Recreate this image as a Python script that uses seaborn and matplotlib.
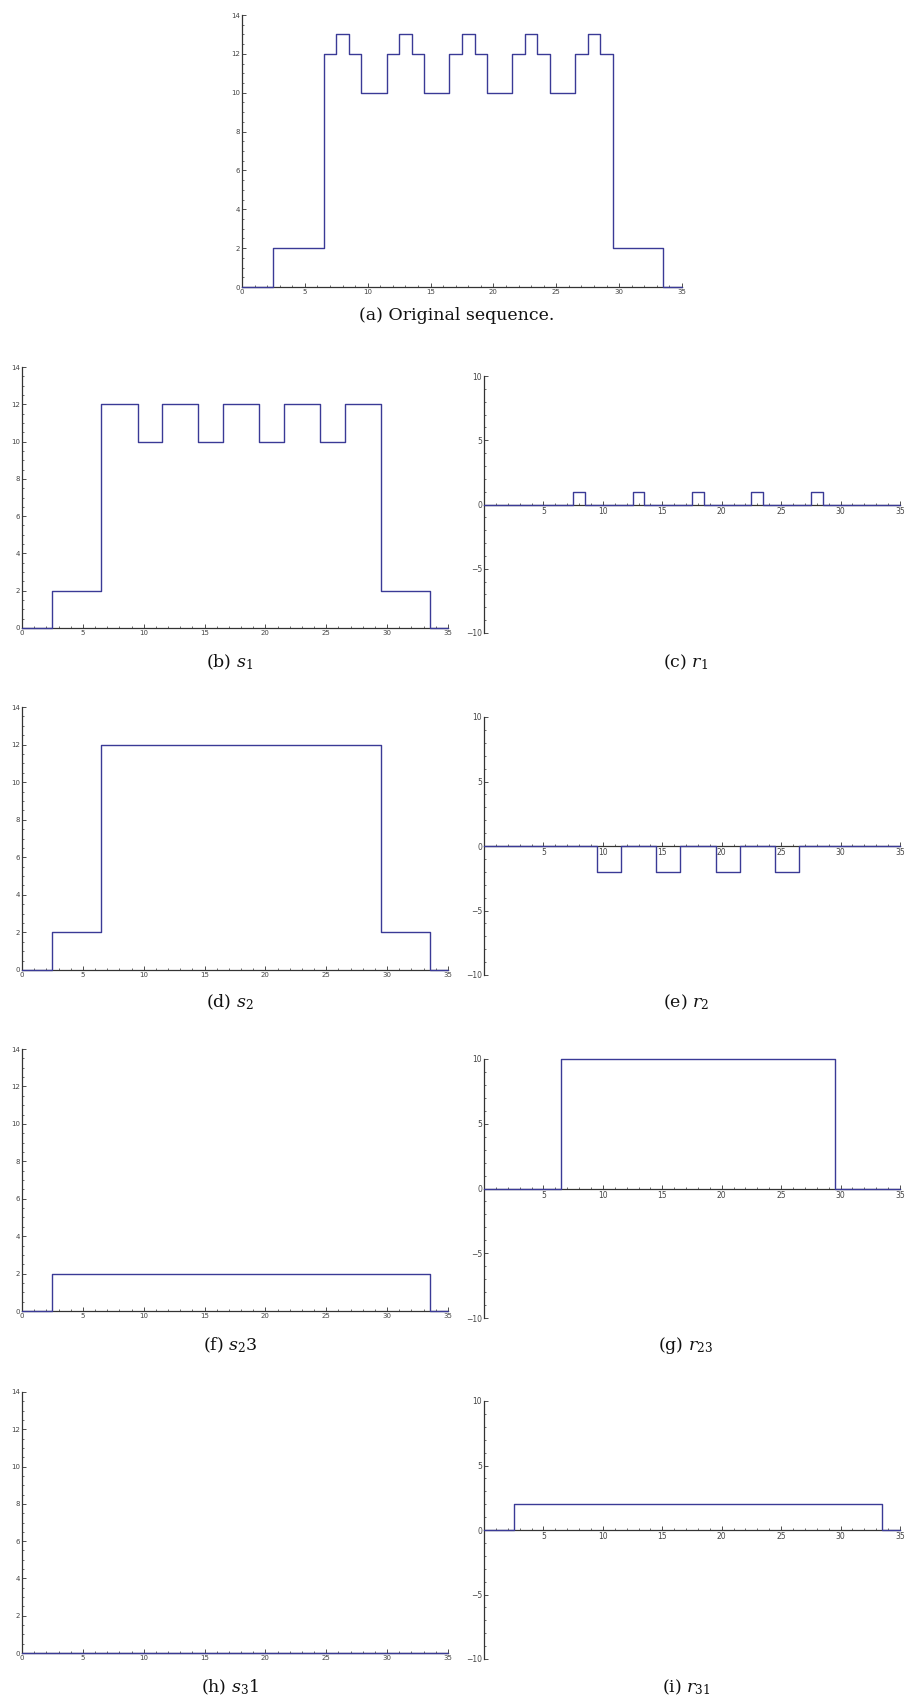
"""
Декомпозиция последовательности: исходный сигнал, сглаженные части s и остатки r.
"""

import numpy as np
import matplotlib
matplotlib.use("Agg")
import matplotlib.pyplot as plt
from matplotlib.ticker import MultipleLocator, FuncFormatter
import seaborn as sns


# ============================================================
# ДАННЫЕ
# ============================================================

idx = list(range(36))

original = [0, 0, 0, 2, 2, 2, 2, 12, 13, 12, 10, 10,
            12, 13, 12, 10, 10, 12, 13, 12, 10, 10, 12, 13,
            12, 10, 10, 12, 13, 12, 2, 2, 2, 2, 0, 0]
s1 = [0, 0, 0, 2, 2, 2, 2, 12, 12, 12, 10, 10,
      12, 12, 12, 10, 10, 12, 12, 12, 10, 10, 12, 12,
      12, 10, 10, 12, 12, 12, 2, 2, 2, 2, 0, 0]
r1 = [0, 0, 0, 0, 0, 0, 0, 0, 1, 0, 0, 0,
      0, 1, 0, 0, 0, 0, 1, 0, 0, 0, 0, 1,
      0, 0, 0, 0, 1, 0, 0, 0, 0, 0, 0, 0]
s2 = [0, 0, 0, 2, 2, 2, 2, 12, 12, 12, 12, 12,
      12, 12, 12, 12, 12, 12, 12, 12, 12, 12, 12, 12,
      12, 12, 12, 12, 12, 12, 2, 2, 2, 2, 0, 0]
r2 = [0, 0, 0, 0, 0, 0, 0, 0, 0, 0, -2, -2,
      0, 0, 0, -2, -2, 0, 0, 0, -2, -2, 0, 0,
      0, -2, -2, 0, 0, 0, 0, 0, 0, 0, 0, 0]
s23 = [0, 0, 0, 2, 2, 2, 2, 2, 2, 2, 2, 2,
       2, 2, 2, 2, 2, 2, 2, 2, 2, 2, 2, 2,
       2, 2, 2, 2, 2, 2, 2, 2, 2, 2, 0, 0]
r23 = [0, 0, 0, 0, 0, 0, 0, 10, 10, 10, 10, 10,
       10, 10, 10, 10, 10, 10, 10, 10, 10, 10, 10, 10,
       10, 10, 10, 10, 10, 10, 0, 0, 0, 0, 0, 0]
s31 = [0, 0, 0, 0, 0, 0, 0, 0, 0, 0, 0, 0,
       0, 0, 0, 0, 0, 0, 0, 0, 0, 0, 0, 0,
       0, 0, 0, 0, 0, 0, 0, 0, 0, 0, 0, 0]
r31 = [0, 0, 0, 2, 2, 2, 2, 2, 2, 2, 2, 2,
       2, 2, 2, 2, 2, 2, 2, 2, 2, 2, 2, 2,
       2, 2, 2, 2, 2, 2, 2, 2, 2, 2, 0, 0]

captions = ["(a) Original sequence.", "(b) $s_1$", "(c) $r_1$",
            "(d) $s_2$", "(e) $r_2$", "(f) $s_2$3", "(g) $r_{23}$",
            "(h) $s_3$1", "(i) $r_{31}$"]

LINE_COLOR = "#3a3a96"
W, H = 906, 1700


# ============================================================
# ОФОРМЛЕНИЕ
# ============================================================

sns.set_theme(style="ticks")
plt.rcParams["font.family"] = ["DejaVu Sans"]
plt.rcParams["mathtext.fontset"] = "dejavuserif"


def px_axes(fig, left, top, right, bottom):
    """Создать оси по пиксельным координатам (от верхнего левого угла)."""
    return fig.add_axes([left / W, 1 - bottom / H, (right - left) / W, (bottom - top) / H])


def style_axes(ax, signed):
    for side in ("top", "right"):
        ax.spines[side].set_visible(False)
    for side in ("left", "bottom"):
        ax.spines[side].set_color("#333333")
        ax.spines[side].set_linewidth(0.9)
    ax.set_xlim(0, 35)
    ax.xaxis.set_major_locator(MultipleLocator(5))
    ax.xaxis.set_minor_locator(MultipleLocator(1))
    if signed:
        ax.set_ylim(-10, 10)
        ax.spines["bottom"].set_position(("data", 0))
        ax.yaxis.set_major_locator(MultipleLocator(5))
        ax.yaxis.set_minor_locator(MultipleLocator(1))
        ax.xaxis.set_major_formatter(FuncFormatter(lambda v, p: "" if v == 0 else f"{v:.0f}"))
        size = 5.5
    else:
        ax.set_ylim(0, 14)
        ax.yaxis.set_major_locator(MultipleLocator(2))
        ax.yaxis.set_minor_locator(MultipleLocator(0.5))
        size = 5.0
    ax.tick_params(which="major", direction="in", length=3, width=0.6,
                   color="#333333", labelsize=size, labelcolor="#444444", pad=1.5)
    ax.tick_params(which="minor", direction="in", length=1.6, width=0.5, color="#333333")
    ax.set_xlabel("")
    ax.set_ylabel("")


def draw(ax, values, signed):
    sns.lineplot(x=idx, y=values, ax=ax, drawstyle="steps-mid",
                 color=LINE_COLOR, linewidth=1.0, clip_on=False, zorder=3)
    style_axes(ax, signed)


# ============================================================
# ПОСТРОЕНИЕ
# ============================================================

fig = plt.figure(figsize=(W / 100, H / 100), dpi=100)

ax_a = px_axes(fig, 242, 15, 682, 287)
draw(ax_a, original, False)

rows_left = [(367, 628), (707, 970), (1049, 1311), (1392, 1653)]
rows_right = [(376, 633), (717, 975), (1059, 1318), (1401, 1659)]
left_series = [s1, s2, s23, s31]
right_series = [r1, r2, r23, r31]

for (lt, lb), (rt, rb), sl, sr in zip(rows_left, rows_right, left_series, right_series):
    draw(px_axes(fig, 22, lt, 448, lb), sl, False)
    draw(px_axes(fig, 484, rt, 900, rb), sr, True)

caption_pos = [(457, 315),
               (230, 662), (686, 662),
               (230, 1002), (686, 1002),
               (230, 1345), (686, 1345),
               (230, 1687), (686, 1687)]
for text, (cx, cy) in zip(captions, caption_pos):
    fig.text(cx / W, 1 - cy / H, text, ha="center", va="center",
             fontsize=12.5, family=["DejaVu Serif"], color="#111111")

fig.savefig("out.png", dpi=100)
plt.close(fig)
